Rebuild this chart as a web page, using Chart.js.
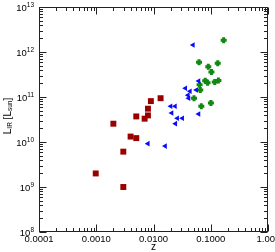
<!DOCTYPE html>
<html lang="en">
<head>
<meta charset="UTF-8">
<title>L_IR vs z</title>
<script src="https://cdn.jsdelivr.net/npm/chart.js"></script>
<style>
    html, body { margin: 0; padding: 0; background: #fff; }
    .caixa { width: 275px; height: 252px; position: relative; }
</style>
</head>
<body>
<div class="caixa"><canvas id="grafico"></canvas></div>
<script>
// red squares
var zRed = [0.00098, 0.00297, 0.00297, 0.00199, 0.00398, 0.0050, 0.0050, 0.0070, 0.0080, 0.0080, 0.0090, 0.0133];
var lirRed = [2.0e9, 1.0e9, 6.1e9, 2.55e10, 1.32e10, 1.22e10, 3.7e10, 3.3e10, 3.9e10, 5.5e10, 8.1e10, 9.4e10];
// blue triangles
var zBlue = [0.0490, 0.0614, 0.0361, 0.0434, 0.0560, 0.0401, 0.0411, 0.0200, 0.0238, 0.0208, 0.0261, 0.0319, 0.0614, 0.0242, 0.0080, 0.0160];
var lirBlue = [1.43e12, 2.26e11, 1.56e11, 1.34e11, 1.43e11, 1.10e11, 9.4e10, 6.2e10, 6.2e10, 4.4e10, 3.36e10, 3.36e10, 4.2e10, 2.56e10, 9.2e9, 8.1e9];
// green markers
var zGreen = [0.168, 0.0624, 0.0906, 0.1325, 0.1028, 0.080, 0.088, 0.1175, 0.136, 0.0638, 0.0656, 0.051, 0.1007, 0.0684];
var lirGreen = [1.83e12, 5.9e11, 4.7e11, 5.6e11, 3.6e11, 2.29e11, 2.07e11, 2.15e11, 2.34e11, 1.87e11, 1.43e11, 9.4e10, 7.4e10, 6.2e10];

var xTicks = [0.0001, 0.001, 0.01, 0.1, 1];
var xTickLabels = ['0.0001', '0.0010', '0.0100', '0.1000', '1.00'];
var yExps = [8, 9, 10, 11, 12, 13];

function pontos(xs, ys) {
    return xs.map(function (x, i) { return { x: x, y: ys[i] }; });
}

// box, inward ticks (major + minor) on all four sides, labels
var eixos = {
    id: 'eixos',
    afterDraw: function (chart) {
        var ctx = chart.ctx;
        var a = chart.chartArea;
        var sx = chart.scales.x, sy = chart.scales.y;
        var L = Math.round(a.left) + 0.5, R = Math.round(a.right) - 0.5;
        var T = Math.round(a.top) + 0.5, B = Math.round(a.bottom) - 0.5;
        ctx.save();
        ctx.strokeStyle = '#222';
        ctx.lineWidth = 1;
        ctx.strokeRect(L, T, R - L, B - T);
        ctx.beginPath();
        // x ticks
        for (var e = -4; e <= 0; e++) {
            for (var k = 1; k <= 9; k++) {
                var v = k * Math.pow(10, e);
                if (v > 1.0001) break;
                var px = Math.round(sx.getPixelForValue(v)) + 0.5;
                var len = (k == 1) ? 7 : 3.5;
                ctx.moveTo(px, B); ctx.lineTo(px, B - len);
                ctx.moveTo(px, T); ctx.lineTo(px, T + len);
            }
        }
        // y ticks
        for (var e = 8; e <= 13; e++) {
            for (var k = 1; k <= 9; k++) {
                var v = k * Math.pow(10, e);
                if (e == 13 && k > 1) break;
                var py = Math.round(sy.getPixelForValue(v)) + 0.5;
                var len = (k == 1) ? 7 : 3.5;
                ctx.moveTo(L, py); ctx.lineTo(L + len, py);
                ctx.moveTo(R, py); ctx.lineTo(R - len, py);
            }
        }
        ctx.stroke();

        ctx.fillStyle = '#000';
        var fonte = '"Liberation Sans", Arial, sans-serif';
        // y labels 10^n
        for (var i = 0; i < yExps.length; i++) {
            var py = sy.getPixelForValue(Math.pow(10, yExps[i]));
            ctx.font = '6.5px ' + fonte;
            var sup = String(yExps[i]);
            var ws = ctx.measureText(sup).width;
            ctx.textBaseline = 'middle';
            ctx.textAlign = 'left';
            ctx.fillText(sup, 34 - ws, py - 1.5);
            ctx.font = '9.5px ' + fonte;
            ctx.textAlign = 'right';
            ctx.fillText('10', 34 - ws, py + 1.5);
        }
        // x labels (last one kept inside the canvas)
        ctx.font = '9.5px ' + fonte;
        ctx.textBaseline = 'top';
        for (var i = 0; i < xTicks.length; i++) {
            var px = sx.getPixelForValue(xTicks[i]);
            var w = ctx.measureText(xTickLabels[i]).width;
            ctx.textAlign = 'left';
            ctx.fillText(xTickLabels[i], Math.min(px - w / 2, chart.width - w), 235);
        }
        // x title
        ctx.font = '10px ' + fonte;
        ctx.textAlign = 'center';
        ctx.textBaseline = 'middle';
        ctx.fillText('z', (a.left + a.right) / 2, 247);

        // y title: L_IR [L_sun]
        var partes = [['L', 0], ['IR', 1], [' [L', 0], ['sun', 1], [']', 0]];
        var total = 0;
        partes.forEach(function (p) {
            ctx.font = (p[1] ? '6.5px ' : '10px ') + fonte;
            total += ctx.measureText(p[0]).width;
        });
        ctx.translate(8, 116);
        ctx.rotate(-Math.PI / 2);
        ctx.textAlign = 'left';
        ctx.textBaseline = 'middle';
        var cx = -total / 2;
        partes.forEach(function (p) {
            ctx.font = (p[1] ? '6.5px ' : '10px ') + fonte;
            ctx.fillText(p[0], cx, p[1] ? 2.5 : 0);
            cx += ctx.measureText(p[0]).width;
        });
        ctx.restore();
    }
};

const chart = new Chart('grafico', {
    type: 'scatter',
    data: {
        datasets: [
            {
                label: 'red',
                data: pontos(zRed, lirRed),
                pointStyle: 'rect',
                pointRadius: 4.2,
                backgroundColor: '#990000',
                borderColor: '#990000',
                borderWidth: 0
            },
            {
                label: 'blue',
                data: pontos(zBlue, lirBlue),
                pointStyle: 'triangle',
                rotation: -90,
                pointRadius: 3.2,
                backgroundColor: '#0a0aff',
                borderColor: '#0a0aff',
                borderWidth: 0
            },
            {
                label: 'green',
                data: pontos(zGreen, lirGreen),
                pointStyle: 'cross',
                pointRadius: 3,
                backgroundColor: '#118811',
                borderColor: '#118811',
                borderWidth: 3
            }
        ]
    },
    options: {
        responsive: true,
        maintainAspectRatio: false,
        animation: false,
        layout: { padding: { left: 39, right: 5, top: 5, bottom: 20 } },
        plugins: { legend: { display: false }, tooltip: { enabled: false } },
        scales: {
            x: { type: 'logarithmic', min: 0.0001, max: 1, display: false },
            y: { type: 'logarithmic', min: 1e8, max: 1e13, display: false }
        }
    },
    plugins: [eixos]
});
</script>
</body>
</html>
